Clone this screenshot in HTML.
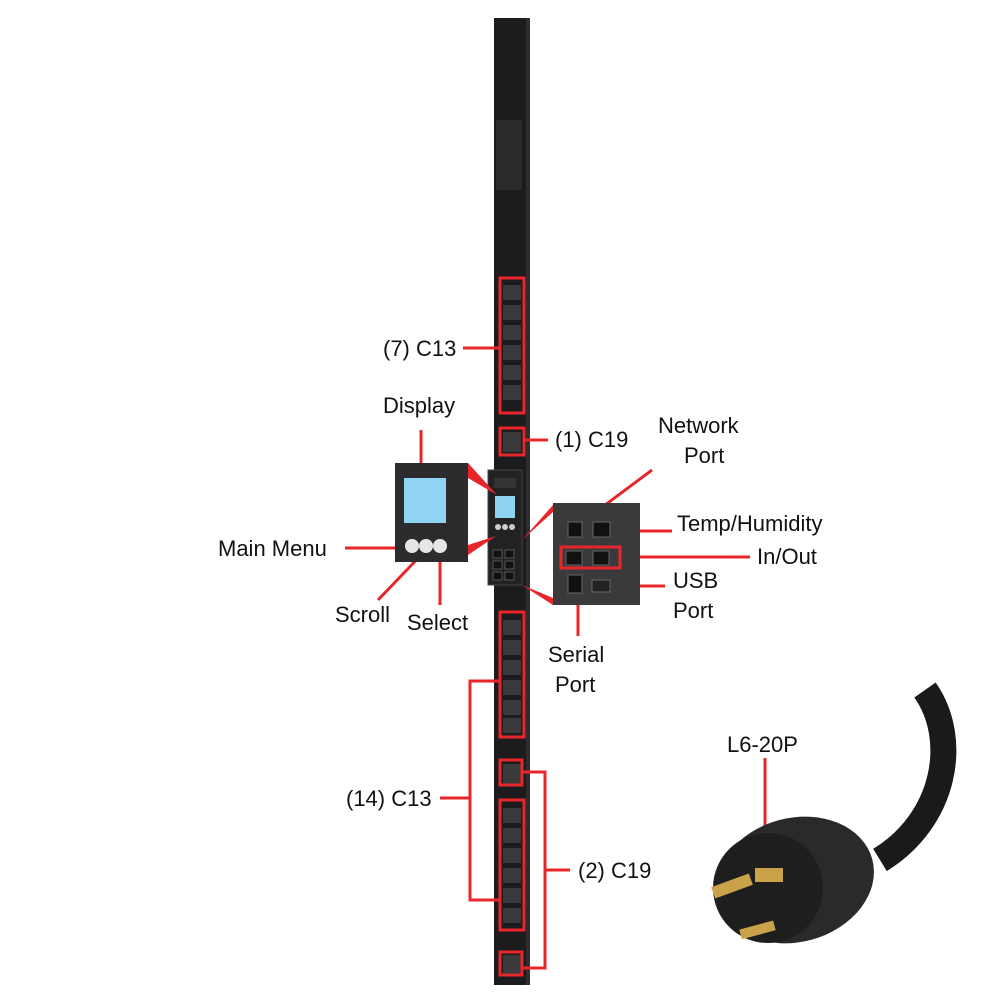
<!DOCTYPE html>
<html><head><style>
body{margin:0;background:#fff;}
svg text{font-family:"Liberation Sans",sans-serif;font-size:22px;fill:#111;}
</style></head><body>
<svg width="1000" height="1000" viewBox="0 0 1000 1000" xmlns="http://www.w3.org/2000/svg">
<rect x="494" y="18" width="36" height="967" fill="#1c1c1e"/>
<rect x="526" y="18" width="4" height="967" fill="#2e2e30"/>
<rect x="496" y="120" width="26" height="70" fill="#2a2a2c"/>
<rect x="488" y="470" width="34" height="115" fill="#222" stroke="#444"/>
<rect x="495" y="496" width="20" height="22" fill="#8ed3f0"/>
<rect x="494" y="478" width="22" height="10" fill="#333"/>
<circle cx="498" cy="527" r="3" fill="#ccc"/><circle cx="505" cy="527" r="3" fill="#ccc"/><circle cx="512" cy="527" r="3" fill="#ccc"/>
<g fill="#111" stroke="#555"><rect x="493" y="550" width="9" height="8"/><rect x="505" y="550" width="9" height="8"/><rect x="493" y="561" width="9" height="8"/><rect x="505" y="561" width="9" height="8"/><rect x="493" y="572" width="9" height="8"/><rect x="505" y="572" width="9" height="8"/></g>
<g fill="#3a3a3c">
<rect x="503" y="285" width="18" height="15"/><rect x="503" y="305" width="18" height="15"/><rect x="503" y="325" width="18" height="15"/><rect x="503" y="345" width="18" height="15"/><rect x="503" y="365" width="18" height="15"/><rect x="503" y="385" width="18" height="15"/>
<rect x="503" y="620" width="18" height="15"/><rect x="503" y="640" width="18" height="15"/><rect x="503" y="660" width="18" height="15"/><rect x="503" y="680" width="18" height="15"/><rect x="503" y="700" width="18" height="15"/><rect x="503" y="718" width="18" height="15"/>
<rect x="503" y="808" width="18" height="15"/><rect x="503" y="828" width="18" height="15"/><rect x="503" y="848" width="18" height="15"/><rect x="503" y="868" width="18" height="15"/><rect x="503" y="888" width="18" height="15"/><rect x="503" y="908" width="18" height="15"/>
<rect x="503" y="432" width="18" height="20"/><rect x="503" y="764" width="18" height="20"/><rect x="503" y="955" width="18" height="20"/>
</g>
<g fill="none" stroke="#e8262a" stroke-width="3">
<rect x="500" y="278" width="24" height="135"/>
<rect x="500" y="428" width="24" height="27"/>
<rect x="500" y="612" width="24" height="125"/>
<rect x="500" y="800" width="24" height="130"/>
<rect x="500" y="760" width="22" height="25"/>
<rect x="500" y="952" width="22" height="23"/>
<line x1="463" y1="348" x2="500" y2="348"/>
<line x1="524" y1="440" x2="548" y2="440"/>
<line x1="421" y1="430" x2="421" y2="470"/>
<line x1="345" y1="548" x2="405" y2="548"/>
<line x1="378" y1="600" x2="424" y2="552"/>
<line x1="440" y1="553" x2="440" y2="605"/>
<polyline points="500,681 470,681 470,900 500,900"/>
<line x1="440" y1="798" x2="470" y2="798"/>
<polyline points="522,772 545,772 545,968 522,968"/>
<line x1="545" y1="870" x2="570" y2="870"/>
<line x1="585" y1="520" x2="652" y2="470"/>
<line x1="610" y1="531" x2="672" y2="531"/>
<line x1="620" y1="557" x2="750" y2="557"/>
<line x1="612" y1="586" x2="665" y2="586"/>
<line x1="578" y1="586" x2="578" y2="636"/>
<line x1="765" y1="758" x2="765" y2="875"/>
</g>
<g fill="#e8262a">
<polygon points="468,463 468,478 497,495"/>
<polygon points="468,545 468,555 496,536"/>
<polygon points="553,505 553,512 522,540"/>
<polygon points="553,598 553,605 522,585"/>
</g>
<rect x="395" y="463" width="73" height="99" fill="#2c2c2e"/>
<rect x="404" y="478" width="42" height="45" fill="#8fd4f2"/>
<circle cx="412" cy="546" r="7" fill="#e6e6e6"/><circle cx="426" cy="546" r="7" fill="#e6e6e6"/><circle cx="440" cy="546" r="7" fill="#e6e6e6"/>
<rect x="553" y="503" width="87" height="102" fill="#3a3a3c"/>
<g fill="#111" stroke="#666"><rect x="568" y="522" width="14" height="15"/><rect x="593" y="522" width="17" height="15"/><rect x="566" y="551" width="16" height="14"/><rect x="593" y="551" width="16" height="14"/><rect x="568" y="575" width="14" height="18"/><rect x="592" y="580" width="18" height="12" fill="#222"/></g>
<rect x="561" y="547" width="59" height="21" fill="none" stroke="#e8262a" stroke-width="3"/>
<path d="M925 690 C960 740 945 820 880 860" stroke="#1a1a1a" stroke-width="26" fill="none"/>
<ellipse cx="795" cy="880" rx="80" ry="62" fill="#2a2a2a" transform="rotate(-15 795 880)"/>
<ellipse cx="768" cy="888" rx="55" ry="55" fill="#1e1e1e"/>
<rect x="712" y="880" width="40" height="12" fill="#c9a24a" transform="rotate(-20 732 886)"/>
<rect x="740" y="925" width="35" height="10" fill="#c9a24a" transform="rotate(-15 757 930)"/>
<rect x="755" y="868" width="28" height="14" fill="#c9a24a"/>
<text x="383" y="356">(7) C13</text>
<text x="555" y="447">(1) C19</text>
<text x="383" y="413">Display</text>
<text x="218" y="556">Main Menu</text>
<text x="335" y="622">Scroll</text>
<text x="407" y="630">Select</text>
<text x="658" y="433">Network</text>
<text x="684" y="463">Port</text>
<text x="677" y="531">Temp/Humidity</text>
<text x="757" y="564">In/Out</text>
<text x="673" y="588">USB</text>
<text x="673" y="618">Port</text>
<text x="548" y="662">Serial</text>
<text x="555" y="692">Port</text>
<text x="346" y="806">(14) C13</text>
<text x="578" y="878">(2) C19</text>
<text x="727" y="752">L6-20P</text>
</svg>
</body></html>
